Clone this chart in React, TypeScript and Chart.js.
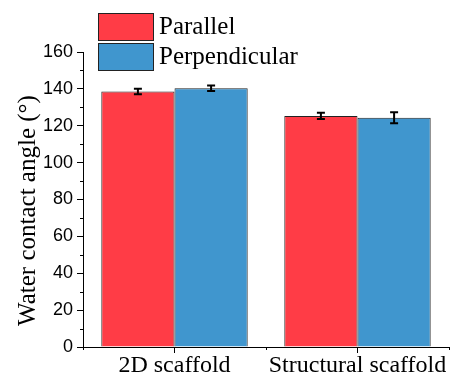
import React, { useEffect, useRef } from "react";
import { Chart, registerables } from "chart.js";

Chart.register(...registerables);

const categories = ["2D scaffold", "Structural scaffold"];
const seriesNames = ["Parallel", "Perpendicular"];
const parallelValues = [138.6, 125.3];
const perpendicularValues = [140.3, 124.3];
const parallelErrors = [1.5, 1.7];
const perpendicularErrors = [1.5, 3.0];
const yTicks = { min: 0, max: 160, major: 20, minor: 10 };
const yTitle = "Water contact angle (°)";

const RED = "#FF3C46";
const BLUE = "#4096CE";
const SERIF = "'Liberation Serif', 'Times New Roman', serif";
const SANS = "'Liberation Sans', Arial, sans-serif";

const errorBarPlugin = {
  id: "errorBars",
  afterDatasetsDraw(chart: any) {
    const ctx = chart.ctx;
    const y = chart.scales.y;
    const errs = [parallelErrors, perpendicularErrors];
    ctx.save();
    ctx.strokeStyle = "#000";
    ctx.lineWidth = 2;
    chart.data.datasets.forEach((ds: any, di: number) => {
      const meta = chart.getDatasetMeta(di);
      meta.data.forEach((bar: any, i: number) => {
        const v = ds.data[i];
        const e = errs[di][i];
        const yt = y.getPixelForValue(v + e);
        const yb = y.getPixelForValue(v - e);
        const cx = bar.x;
        const cap = 4;
        ctx.beginPath();
        ctx.moveTo(cx, yt);
        ctx.lineTo(cx, yb);
        ctx.moveTo(cx - cap, yt);
        ctx.lineTo(cx + cap, yt);
        ctx.moveTo(cx - cap, yb);
        ctx.lineTo(cx + cap, yb);
        ctx.stroke();
      });
    });
    ctx.restore();
  },
};

const minorTickPlugin = {
  id: "minorTicks",
  afterDraw(chart: any) {
    const ctx = chart.ctx;
    const y = chart.scales.y;
    const x = chart.scales.x;
    ctx.save();
    ctx.strokeStyle = "#000";
    ctx.lineWidth = 1;
    ctx.beginPath();
    for (let v = yTicks.min + yTicks.minor; v < yTicks.max; v += yTicks.major) {
      const py = Math.round(y.getPixelForValue(v)) + 0.5;
      ctx.moveTo(x.left - 3, py);
      ctx.lineTo(x.left, py);
    }
    const n = categories.length;
    const step = (x.right - x.left) / n;
    for (let i = 0; i <= n; i++) {
      const px = Math.round(x.left + i * step) + 0.5;
      ctx.moveTo(px, y.bottom);
      ctx.lineTo(px, y.bottom + 3);
    }
    ctx.stroke();

    // y-axis title
    ctx.fillStyle = "#000";
    ctx.font = `25px ${SERIF}`;
    ctx.textAlign = "center";
    ctx.textBaseline = "middle";
    ctx.translate(28, (y.top + y.bottom) / 2 + 11);
    ctx.rotate(-Math.PI / 2);
    ctx.fillText(yTitle, 0, 0);
    ctx.restore();
  },
};

const legendPlugin = {
  id: "customLegend",
  afterDraw(chart: any) {
    const ctx = chart.ctx;
    ctx.save();
    const colors = [RED, BLUE];
    chart.data.datasets.forEach((ds: any, i: number) => {
      const bx = 98;
      const by = 13 + i * 30;
      const bw = 55;
      const bh = 27;
      ctx.fillStyle = colors[i];
      ctx.fillRect(bx, by, bw, bh);
      ctx.strokeStyle = "#222";
      ctx.lineWidth = 1;
      ctx.strokeRect(bx + 0.5, by + 0.5, bw, bh);
      ctx.fillStyle = "#000";
      ctx.font = `25px ${SERIF}`;
      ctx.textBaseline = "middle";
      ctx.textAlign = "left";
      ctx.fillText(ds.label, 159, by + bh / 2 + 1);
    });
    ctx.restore();
  },
};

export default function App() {
  const ref = useRef<HTMLCanvasElement>(null);
  useEffect(() => {
    const canvas = ref.current;
    if (!canvas) return;
    const chart = new Chart(canvas, {
      type: "bar",
      data: {
        labels: categories,
        datasets: [
          {
            label: seriesNames[0],
            data: parallelValues,
            backgroundColor: RED,
            borderColor: "#222",
            borderWidth: 1,
            categoryPercentage: 0.8,
            barPercentage: 1.0,
          },
          {
            label: seriesNames[1],
            data: perpendicularValues,
            backgroundColor: BLUE,
            borderColor: "#222",
            borderWidth: 1,
            categoryPercentage: 0.8,
            barPercentage: 1.0,
          },
        ],
      },
      options: {
        responsive: false,
        animation: false,
        layout: { padding: { top: 52, right: 2, left: 0, bottom: 0 } },
        plugins: {
          legend: { display: false },
          tooltip: { enabled: false },
        },
        scales: {
          x: {
            type: "category",
            offset: true,
            grid: {
              offset: false,
              drawOnChartArea: false,
              tickLength: 6,
              color: "#000",
            },
            border: { display: true, color: "#000", width: 1 },
            ticks: {
              color: "#000",
              padding: -2,
              font: { family: SERIF, size: 24 },
              maxRotation: 0,
              autoSkip: false,
            },
            afterFit(scale: any) {
              scale.height = 29;
            },
          },
          y: {
            min: yTicks.min,
            max: yTicks.max,
            grid: {
              drawOnChartArea: false,
              tickLength: 6,
              tickColor: (c: any) =>
                c.tick && c.tick.value % yTicks.major === 0 ? "#000" : "rgba(0,0,0,0)",
            },
            border: { display: true, color: "#000", width: 1 },
            ticks: {
              stepSize: yTicks.minor,
              color: "#000",
              padding: 4,
              font: { family: SANS, size: 18 },
              callback: (v: any) => (Number(v) % yTicks.major === 0 ? String(v) : ""),
            },
            title: { display: false },
            afterFit(scale: any) {
              scale.width = 83;
            },
          },
        },
      },
      plugins: [errorBarPlugin, minorTickPlugin, legendPlugin],
    });
    return () => chart.destroy();
  }, []);
  return (
    <div style={{ position: "fixed", left: 0, top: 0, width: 451, height: 376, background: "#fff" }}>
      <canvas ref={ref} width={451} height={376} />
    </div>
  );
}
